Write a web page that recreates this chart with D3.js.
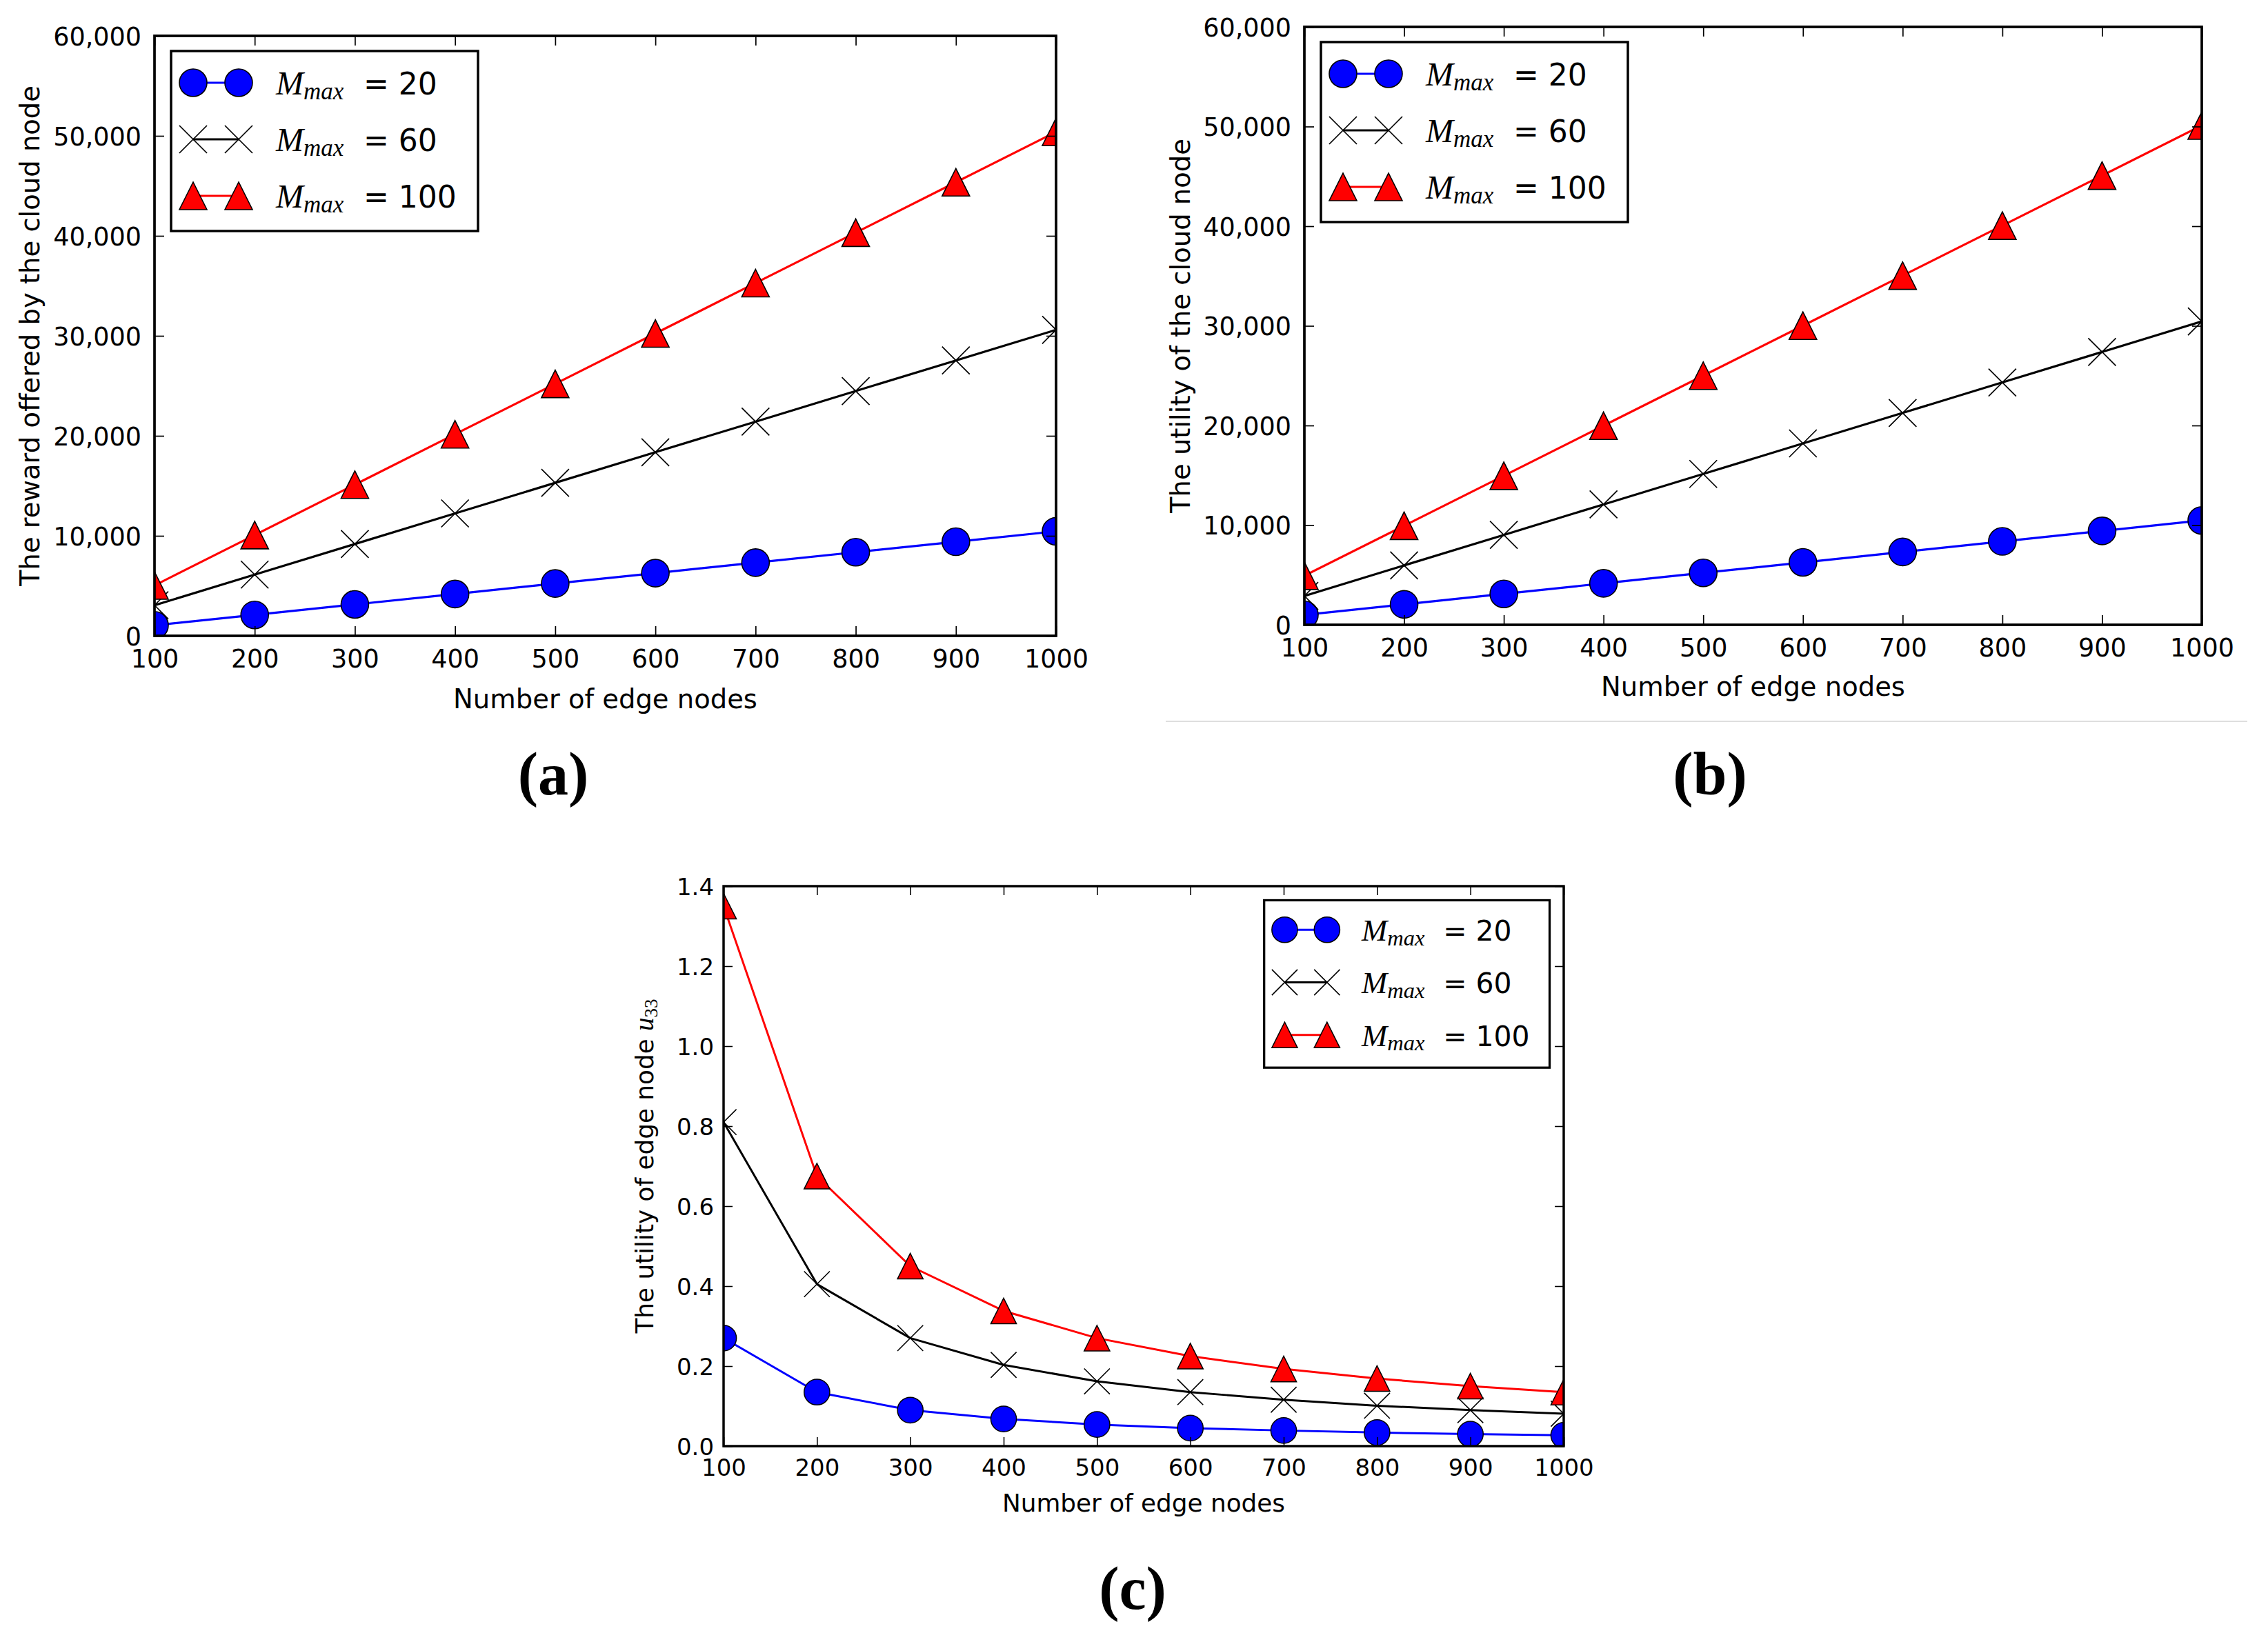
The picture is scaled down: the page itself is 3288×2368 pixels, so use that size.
<!DOCTYPE html>
<html>
<head>
<meta charset="utf-8">
<script src="https://cdn.jsdelivr.net/npm/d3@7/dist/d3.min.js"></script>
<style>
  body { margin: 0; background: #fff; }
  svg { display: block; }
</style>
</head>
<body>
<script>
// number of edge nodes (x axis, shared by all panels)
var nodes = [100, 200, 300, 400, 500, 600, 700, 800, 900, 1000];
var xTicks = [100, 200, 300, 400, 500, 600, 700, 800, 900, 1000];
var legendValues = ["20", "60", "100"];

// (a) reward offered by the cloud node
var rewardM20  = [1050, 2090, 3140, 4180, 5230, 6270, 7320, 8360, 9410, 10450];
var rewardM60  = [3060, 6120, 9180, 12240, 15300, 18360, 21420, 24480, 27540, 30600];
var rewardM100 = [5040, 10080, 15120, 20160, 25200, 30240, 35280, 40320, 45360, 50400];

// (b) utility of the cloud node
var cloudM20  = [1000, 2050, 3100, 4160, 5210, 6260, 7310, 8370, 9420, 10470];
var cloudM60  = [2900, 5960, 9020, 12080, 15140, 18200, 21260, 24320, 27380, 30440];
var cloudM100 = [4920, 9940, 14960, 19980, 25000, 30020, 35040, 40060, 45080, 50100];

// (c) utility of edge node u33
var edgeM20  = [0.27, 0.135, 0.09, 0.068, 0.054, 0.045, 0.039, 0.034, 0.030, 0.027];
var edgeM60  = [0.81, 0.405, 0.27, 0.203, 0.162, 0.135, 0.116, 0.101, 0.090, 0.081];
var edgeM100 = [1.35, 0.675, 0.45, 0.338, 0.27, 0.225, 0.193, 0.169, 0.150, 0.135];

var cloudTicks = [0, 10000, 20000, 30000, 40000, 50000, 60000];
var edgeTicks = [0, 0.2, 0.4, 0.6, 0.8, 1.0, 1.2, 1.4];

// line / marker look per series
var styles = [
  { color: "#0000ff", shape: "circle" },
  { color: "#000000", shape: "x" },
  { color: "#ff0000", shape: "triangle" }
];

var W = 3288, H = 2368;
var svg = d3.select("body").append("svg").attr("width", W).attr("height", H);
svg.append("rect").attr("width", W).attr("height", H).attr("fill", "#fff");
var defs = svg.append("defs");

var SANS = "DejaVu Sans";
var SERIF = "Liberation Serif";

function marker(g, shape, cx, cy, r, s) {
  if (shape === "circle") {
    g.append("circle").attr("cx", cx).attr("cy", cy).attr("r", r)
      .attr("fill", "#0000ff").attr("stroke", "#000").attr("stroke-width", 1.6 * s);
  } else if (shape === "x") {
    var p = d3.path();
    p.moveTo(cx - r, cy - r); p.lineTo(cx + r, cy + r);
    p.moveTo(cx - r, cy + r); p.lineTo(cx + r, cy - r);
    g.append("path").attr("d", p.toString()).attr("fill", "none")
      .attr("stroke", "#000").attr("stroke-width", 1.7 * s);
  } else {
    var t = d3.path();
    t.moveTo(cx, cy - r); t.lineTo(cx - r, cy + r); t.lineTo(cx + r, cy + r); t.closePath();
    g.append("path").attr("d", t.toString()).attr("fill", "#ff0000")
      .attr("stroke", "#000").attr("stroke-width", 1.6 * s).attr("stroke-linejoin", "miter");
  }
}

function drawPanel(p) {
  var s = p.s;
  var g = svg.append("g");
  var x = d3.scaleLinear().domain([100, 1000]).range([p.x0, p.x1]);
  var y = d3.scaleLinear().domain(p.yDomain).range([p.y1, p.y0]);

  defs.append("clipPath").attr("id", "clip-" + p.id).append("rect")
    .attr("x", p.x0).attr("y", p.y0).attr("width", p.x1 - p.x0).attr("height", p.y1 - p.y0);
  var plot = g.append("g").attr("clip-path", "url(#clip-" + p.id + ")");

  var line = d3.line().x(function(d) { return x(d[0]); }).y(function(d) { return y(d[1]); });

  p.series.forEach(function(vals, i) {
    var st = styles[i];
    var pts = nodes.map(function(n, j) { return [n, vals[j]]; });
    plot.append("path").attr("d", line(pts)).attr("fill", "none")
      .attr("stroke", st.color).attr("stroke-width", 3.2 * s).attr("stroke-linejoin", "round");
    pts.forEach(function(d) { marker(plot, st.shape, x(d[0]), y(d[1]), 20 * s, s); });
  });

  // axes, ticks pointing inward on all four sides
  function styleAxis(a) {
    a.select(".domain").remove();
    a.selectAll(".tick line").attr("stroke", "#000").attr("stroke-width", 1.7 * s);
    a.attr("font-family", SANS).attr("font-size", 36.5 * s);
    a.selectAll(".tick text").attr("fill", "#000");
  }
  g.append("g").attr("transform", "translate(0," + p.y1 + ")")
    .call(d3.axisBottom(x).tickValues(xTicks).tickSize(-14 * s).tickPadding(20 * s).tickFormat(d3.format("d")))
    .call(styleAxis);
  g.append("g").attr("transform", "translate(0," + p.y0 + ")")
    .call(d3.axisTop(x).tickValues(xTicks).tickSize(-14 * s).tickFormat(""))
    .call(styleAxis);
  var left = g.append("g").attr("transform", "translate(" + p.x0 + ",0)")
    .call(d3.axisLeft(y).tickValues(p.yTicks).tickSize(-14 * s).tickPadding(p.yPad).tickFormat(p.fmt))
    .call(styleAxis);
  left.selectAll(".tick text").attr("dy", "0.36em");
  g.append("g").attr("transform", "translate(" + p.x1 + ",0)")
    .call(d3.axisRight(y).tickValues(p.yTicks).tickSize(-14 * s).tickFormat(""))
    .call(styleAxis);

  g.append("rect").attr("x", p.x0).attr("y", p.y0)
    .attr("width", p.x1 - p.x0).attr("height", p.y1 - p.y0)
    .attr("fill", "none").attr("stroke", "#000").attr("stroke-width", 3.7 * s);

  // axis titles
  g.append("text").attr("x", (p.x0 + p.x1) / 2).attr("y", p.y1 + p.xtOff)
    .attr("text-anchor", "middle").attr("font-family", SANS).attr("font-size", 38.5 * s)
    .text("Number of edge nodes");

  var cy = (p.y0 + p.y1) / 2, tx = p.x0 - p.ytOff;
  var yt = g.append("text").attr("x", tx).attr("y", cy)
    .attr("transform", "rotate(-90," + tx + "," + cy + ")")
    .attr("text-anchor", "middle").attr("font-family", SANS).attr("font-size", 38.5 * s);
  yt.append("tspan").text(p.yTitle);
  if (p.yMath) {
    yt.append("tspan").attr("font-family", SERIF).attr("font-style", "italic")
      .attr("font-size", 42 * s).text("u");
    yt.append("tspan").attr("font-family", SERIF).attr("font-size", 29 * s)
      .attr("dy", 6 * s).text("33");
  }

  // legend
  var lw = 445 * s, lh = 261 * s;
  var lx = p.legendRight ? p.x1 - 22 * s - lw : p.x0 + 24 * s;
  var ly = p.y0 + 22 * s;
  var leg = g.append("g");
  leg.append("rect").attr("x", lx).attr("y", ly).attr("width", lw).attr("height", lh)
    .attr("fill", "#fff").attr("stroke", "#000").attr("stroke-width", 3.5 * s);
  legendValues.forEach(function(v, i) {
    var st = styles[i];
    var ry = ly + (46 + 82 * i) * s;
    var m1 = lx + 32 * s, m2 = lx + 98 * s;
    leg.append("line").attr("x1", m1).attr("x2", m2).attr("y1", ry).attr("y2", ry)
      .attr("stroke", st.color).attr("stroke-width", 3.2 * s);
    marker(leg, st.shape, m1, ry, 20 * s, s);
    marker(leg, st.shape, m2, ry, 20 * s, s);
    var lt = leg.append("text").attr("x", lx + 152 * s).attr("y", ry + 17 * s)
      .attr("font-family", SERIF).attr("font-style", "italic");
    lt.append("tspan").attr("font-size", 48 * s).text("M");
    lt.append("tspan").attr("font-size", 35 * s).attr("dy", 7 * s).text("max");
    leg.append("text").attr("x", lx + 279 * s).attr("y", ry + 17 * s)
      .attr("font-family", SANS).attr("font-size", 44 * s)
      .text("= " + v);
  });
}

drawPanel({
  id: "a", s: 1, x0: 224, x1: 1531, y0: 52, y1: 922,
  yDomain: [0, 60000], yTicks: cloudTicks, fmt: d3.format(","), yPad: 19,
  series: [rewardM20, rewardM60, rewardM100],
  yTitle: "The reward offered by the cloud node", ytOff: 167, xtOff: 105,
  legendRight: false
});

drawPanel({
  id: "b", s: 1, x0: 1891, x1: 3192, y0: 39, y1: 906,
  yDomain: [0, 60000], yTicks: cloudTicks, fmt: d3.format(","), yPad: 19,
  series: [cloudM20, cloudM60, cloudM100],
  yTitle: "The utility of the cloud node", ytOff: 166, xtOff: 103,
  legendRight: false
});

drawPanel({
  id: "c", s: 0.93, x0: 1049, x1: 2267, y0: 1285, y1: 2097,
  yDomain: [0, 1.4], yTicks: edgeTicks, fmt: d3.format(".1f"), yPad: 14,
  series: [edgeM20, edgeM60, edgeM100],
  yTitle: "The utility of edge node ", yMath: true, ytOff: 102, xtOff: 95,
  legendRight: true
});

// faint rule under panel (b)
svg.append("line").attr("x1", 1690).attr("x2", 3258).attr("y1", 1046).attr("y2", 1046)
  .attr("stroke", "#dedede").attr("stroke-width", 2);

// sub-figure captions
var caps = [["(a)", 802, 1152], ["(b)", 2479, 1152], ["(c)", 1642, 2333]];
caps.forEach(function(c) {
  svg.append("text").attr("x", c[1]).attr("y", c[2]).attr("text-anchor", "middle")
    .attr("font-family", SERIF).attr("font-weight", "bold").attr("font-size", 88)
    .text(c[0]);
});
</script>
</body>
</html>
